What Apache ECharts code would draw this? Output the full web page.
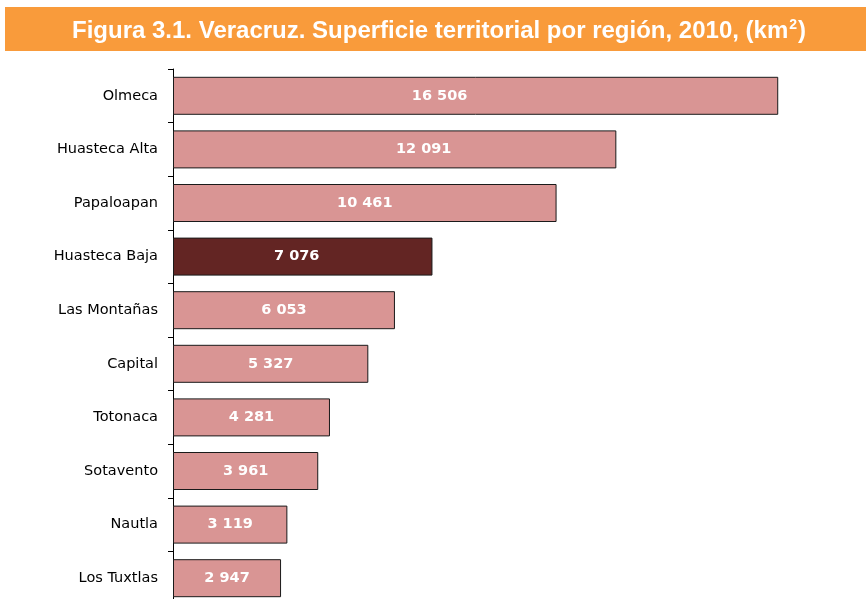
<!DOCTYPE html>
<html>
<head>
<meta charset="utf-8">
<script src="https://cdn.jsdelivr.net/npm/echarts@6/dist/echarts.min.js"></script>
<style>
  html, body { margin: 0; padding: 0; overflow: hidden; background: #fff; }
  #main { width: 866px; height: 605px; }
</style>
</head>
<body>
<div id="main"></div>
<script>
var regiones = ['Olmeca', 'Huasteca Alta', 'Papaloapan', 'Huasteca Baja', 'Las Montañas',
                'Capital', 'Totonaca', 'Sotavento', 'Nautla', 'Los Tuxtlas'];
var superficie = [16506, 12091, 10461, 7076, 6053, 5327, 4281, 3961, 3119, 2947];
var destacada = 'Huasteca Baja';

var myChart = echarts.init(document.getElementById('main'));

function fmt(v) {
    return String(v).replace(/\B(?=(\d{3})+(?!\d))/g, ' ');
}

// the source places a few labels off-centre
var labelShift = { 'Olmeca': -36, 'Huasteca Alta': 29, 'Huasteca Baja': -6 };

var option = {
    animation: false,
    graphic: [
        {
            type: 'rect',
            shape: { x: 5, y: 7, width: 861, height: 44 },
            style: { fill: '#F99B3B' },
            z: 0
        }
    ],
    title: {
        text: '{t|Figura 3.1. Veracruz. Superficie territorial por región, 2010, (km}{s|2}{t|)}',
        left: 72,
        top: 18,
        padding: 0,
        textStyle: {
            rich: {
                t: {
                    color: '#fff',
                    fontFamily: 'Liberation Sans',
                    fontWeight: 'bold',
                    fontSize: 24,
                    lineHeight: 26
                },
                s: {
                    color: '#fff',
                    fontFamily: 'Liberation Sans',
                    fontWeight: 'bold',
                    fontSize: 14,
                    lineHeight: 26,
                    verticalAlign: 'top',
                    padding: [0, 1, 0, 1]
                }
            }
        }
    },
    grid: {
        left: 173,
        right: 33,
        top: 69,
        bottom: 0
    },
    xAxis: {
        type: 'value',
        min: 0,
        max: 18000,
        show: false
    },
    yAxis: {
        type: 'category',
        data: regiones,
        inverse: true,
        axisLine: { lineStyle: { color: '#000', width: 1 } },
        axisTick: { show: true, length: 5, lineStyle: { color: '#000' } },
        axisLabel: {
            color: '#000',
            fontFamily: 'DejaVu Sans',
            fontSize: 14.5,
            margin: 15
        }
    },
    series: [
        {
            type: 'bar',
            barWidth: 38,
            data: superficie.map(function (v, i) {
                var name = regiones[i];
                return {
                    value: v,
                    itemStyle: { color: name === destacada ? '#632523' : '#D99594' },
                    label: { offset: [labelShift[name] || 0, 0] }
                };
            }),
            itemStyle: { borderColor: '#1a1a1a', borderWidth: 1 },
            label: {
                show: true,
                position: 'inside',
                color: '#fff',
                fontFamily: 'DejaVu Sans',
                fontWeight: 'bold',
                fontSize: 14.5,
                formatter: function (p) { return fmt(p.value); }
            }
        }
    ]
};

myChart.setOption(option);
</script>
</body>
</html>
